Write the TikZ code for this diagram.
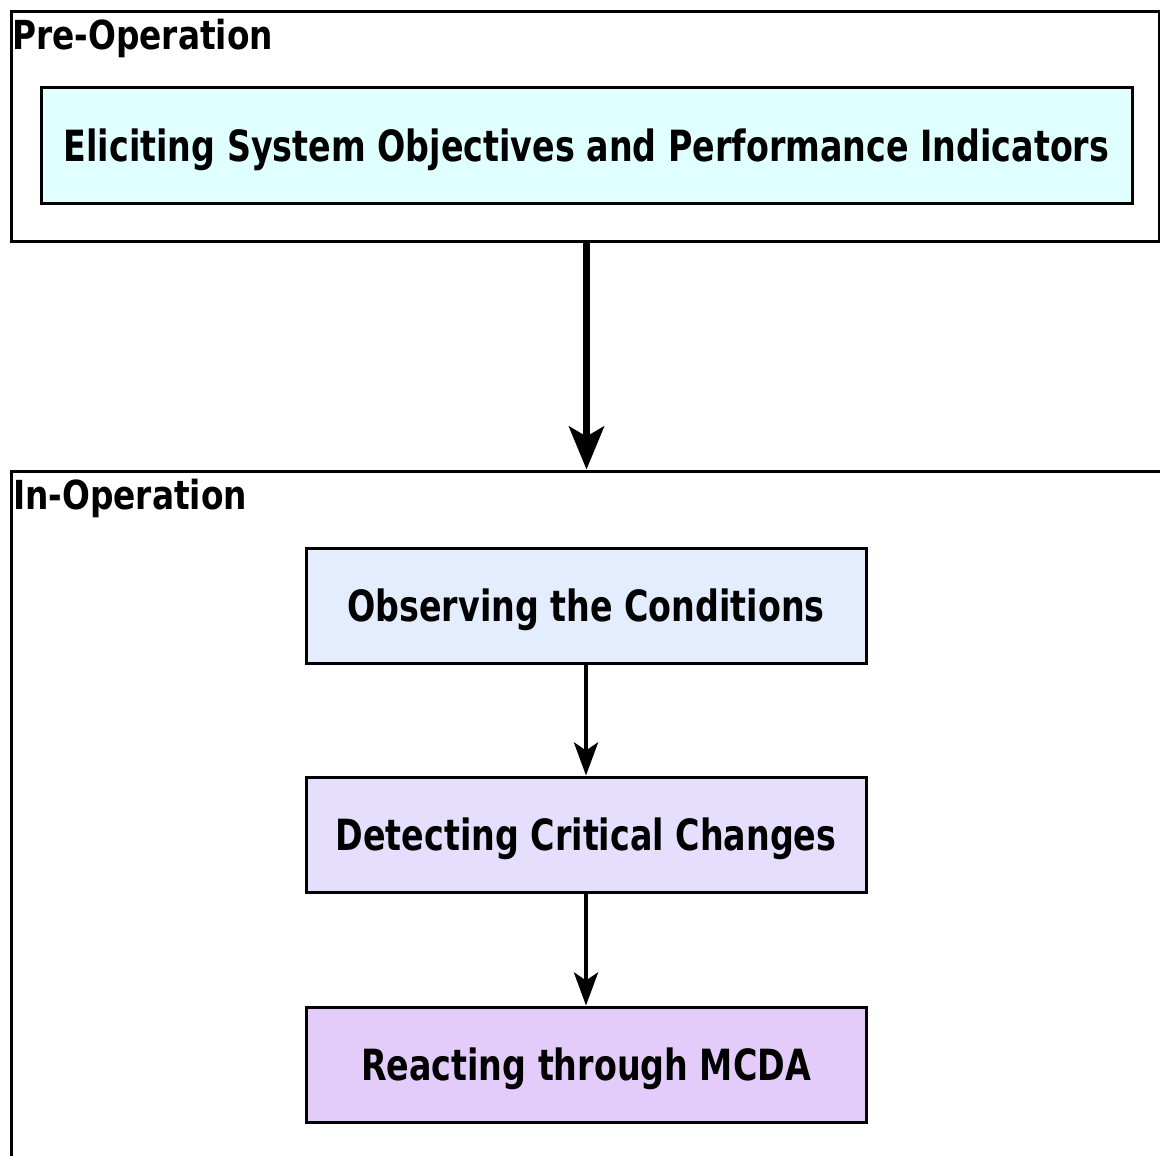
\documentclass[tikz,border=0pt]{standalone}
\usepackage{fontspec}
\usetikzlibrary{arrows.meta}
\newfontfamily\boxfont{DejaVu Sans}[FakeStretch=0.775]
\newfontfamily\phasefont{DejaVu Sans}[FakeStretch=0.82]
\definecolor{elicitfill}{HTML}{E0FFFF}
\definecolor{observefill}{HTML}{E3EDFD}
\definecolor{detectfill}{HTML}{E5DFFD}
\definecolor{reactfill}{HTML}{E4CCFA}
\tikzset{
  frame/.style={draw=black, line width=3pt, fill=white, inner sep=0pt},
  stage/.style={draw=black, line width=3pt, inner sep=0pt,
    text height=32pt, text depth=1pt,
    font=\boxfont\bfseries\fontsize{43}{50}\selectfont},
  phase/.style={inner sep=0pt, anchor=base west,
    font=\phasefont\bfseries\fontsize{40}{47}\selectfont},
  bigflow/.style={line width=7pt, -{Stealth[length=43pt,width=35pt,inset=10pt]}},
  flow/.style={line width=4.5pt, -{Stealth[length=33pt,width=24pt,inset=8pt]}},
}
\begin{document}
\begin{tikzpicture}[x=1pt,y=-1pt]
\useasboundingbox (0,0) rectangle (1160,1156);
\clip (0,0) rectangle (1160,1156);
% phase frames
\node[frame, minimum width=1148pt, minimum height=229pt] (pre) at (585,126.5) {};
\node[frame, minimum width=1150pt, minimum height=720pt] (inop) at (586.5,831) {};
\node[phase] (prelabel) at (12,50) {Pre-Operation};
\node[phase] (inlabel) at (13,509) {In-Operation};
% stages
\node[stage, fill=elicitfill, minimum width=1091pt, minimum height=115pt] (elicit) at (586.5,145.5)
  {Eliciting System Objectives and Performance Indicators};
\node[stage, fill=observefill, minimum width=560pt, minimum height=115pt] (observe) at (586,605.5)
  {Observing the Conditions};
\node[stage, fill=detectfill, minimum width=560pt, minimum height=115pt] (detect) at (586,834.5)
  {Detecting Critical Changes};
\node[stage, fill=reactfill, minimum width=560pt, minimum height=115pt] (react) at (586,1064.5)
  {Reacting through MCDA};
% flow
\draw[bigflow] (pre.south -| elicit) -- (inop.north -| elicit);
\draw[flow] (observe) -- (detect);
\draw[flow] (detect) -- (react);
\end{tikzpicture}
\end{document}
